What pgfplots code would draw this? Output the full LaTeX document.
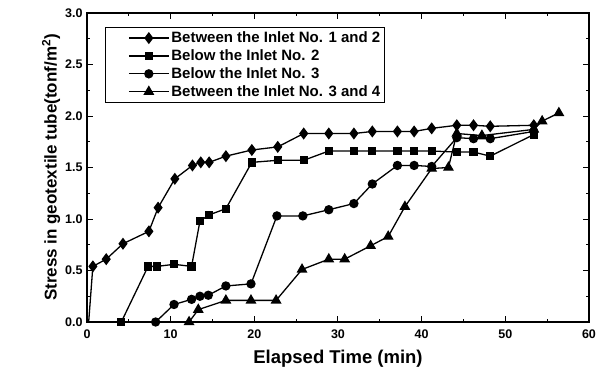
\documentclass[border=0pt]{standalone}
\usepackage{fontspec}
\setmainfont{Liberation Sans}
\usepackage{pgfplots}
\pgfplotsset{compat=1.18}
\begin{document}
\begin{tikzpicture}
\begin{axis}[
  width=502pt, height=309pt, scale only axis,
  xmin=0, xmax=60, ymin=0, ymax=3,
  xtick={0,10,...,60}, ytick={0,0.5,...,3},
  minor x tick num=1, minor y tick num=1,
  major tick length=6pt, minor tick length=3pt,
  tick style={black, line width=1pt},
  axis line style={line width=1.2pt},
  tick align=inside,
  /pgf/number format/assume math mode=true,
  ticklabel style={font=\fontsize{12.5}{14}\selectfont\bfseries},
  xticklabel style={yshift=-4pt},
  yticklabel style={/pgf/number format/fixed, /pgf/number format/fixed zerofill, /pgf/number format/precision=1, xshift=-1pt},
  xlabel={Elapsed Time (min)},
  ylabel={Stress in geotextile tube(tonf/m\textsuperscript{2})},
  xlabel style={font=\fontsize{18.5}{20}\selectfont\bfseries, yshift=-5pt},
  ylabel style={font=\fontsize{17}{19}\selectfont\bfseries, yshift=-2pt},
  legend style={at={(0.036,0.955)}, anchor=north west, draw=black, line width=1pt,
    font=\fontsize{15}{16.5}\selectfont\bfseries, row sep=1.5pt, inner xsep=2pt, inner ysep=2.5pt},
  legend cell align=left,
  legend image code/.code={\path[draw=none,fill=none] (0cm,0cm) -- (0.7cm,0cm);\draw[line width=1.3pt,mark repeat=2,mark phase=2,mark options={fill=black}] plot coordinates {(0.75cm,0cm)(1.45cm,0cm)(2.15cm,0cm)};},
  every axis plot/.append style={black, line width=1.3pt, mark options={solid, fill=black}},
  clip=false,
]
\addplot[forget plot, no markers] coordinates {(0.2,0) (0.7,0.54)};
\addplot[mark=diamond*, mark size=5pt] coordinates {
(0.7,0.54) (2.3,0.61) (4.3,0.76) (7.4,0.88) (8.5,1.11) (10.5,1.39) (12.6,1.52) (13.6,1.55) (14.6,1.55) (16.6,1.61) (19.7,1.67) (22.8,1.70) (25.9,1.83) (28.9,1.83) (31.9,1.83) (34.1,1.85) (37.1,1.85) (39.1,1.85) (41.2,1.88) (44.2,1.91) (46.2,1.91) (48.2,1.90) (53.4,1.91)};
\addlegendentry{Between the Inlet No. 1 and 2}
\addplot[mark=square*, mark size=3.5pt] coordinates {
(4.1,0) (7.3,0.54) (8.4,0.54) (10.4,0.56) (12.5,0.54) (13.5,0.98) (14.6,1.04) (16.6,1.10) (19.7,1.55) (22.8,1.57) (25.9,1.57) (28.9,1.66) (31.9,1.66) (34.1,1.66) (37.1,1.66) (39.1,1.66) (41.2,1.66) (44.2,1.65) (46.2,1.65) (48.2,1.61) (53.4,1.82)};
\addlegendentry{Below the Inlet No. 2}
\addplot[mark=*, mark size=4pt] coordinates {
(8.2,0) (10.4,0.17) (12.5,0.22) (13.5,0.25) (14.5,0.26) (16.6,0.35) (19.6,0.37) (22.7,1.03) (25.8,1.03) (28.9,1.09) (31.9,1.15) (34.1,1.34) (37.1,1.52) (39.1,1.52) (41.2,1.51) (44.2,1.79) (46.2,1.78) (48.2,1.78) (53.4,1.85)};
\addlegendentry{Below the Inlet No. 3}
\addplot[mark=triangle*, mark size=5pt] coordinates {
(12.2,0) (13.3,0.12) (16.6,0.21) (19.6,0.21) (22.6,0.21) (25.7,0.51) (28.9,0.61) (30.8,0.61) (33.9,0.74) (36.0,0.83) (38.0,1.12) (41.2,1.49) (43.2,1.50) (44.2,1.83) (47.2,1.81) (53.4,1.87) (54.4,1.95) (56.4,2.03)};
\addlegendentry{Between the Inlet No. 3 and 4}
\end{axis}
\path[use as bounding box] (current axis.south west) ++(-87pt,-59pt) rectangle ++(613pt,381pt);
\end{tikzpicture}
\end{document}
